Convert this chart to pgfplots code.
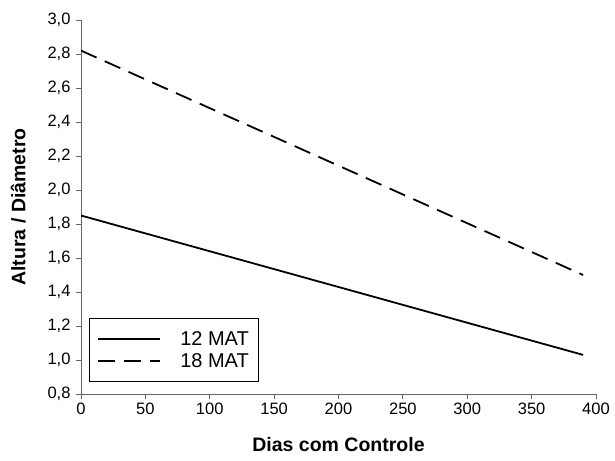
\documentclass[border=0pt]{standalone}
\usepackage{fontspec}
\setmainfont{Liberation Sans}
\usepackage{pgfplots}
\pgfplotsset{compat=1.18}

\begin{document}
\begin{tikzpicture}
\begin{axis}[
  scale only axis,
  width=515pt, height=374pt,
  xmin=0, xmax=400, ymin=0.8, ymax=3.0,
  xtick={0,50,...,400},
  ytick={0.8,1.0,...,3.0},
  axis lines*=left,
  axis line style={gray!80!black, line width=1pt, -},
  tick style={gray!80!black, line width=1pt},
  tick align=outside,
  major tick length=5pt,
  font=\fontsize{16.5}{19}\selectfont,
  xticklabel style={font=\fontsize{16.5}{19}\selectfont},
  yticklabel style={font=\fontsize{16.5}{19}\selectfont, xshift=-2pt},
  /pgf/number format/assume math mode=true,
  /pgf/number format/use comma,
  /pgf/number format/fixed,
  y tick label style={/pgf/number format/precision=1, /pgf/number format/fixed zerofill},
  xlabel={Dias com Controle},
  ylabel={Altura / Diâmetro},
  label style={font=\fontsize{19.5}{23}\selectfont\bfseries},
  xlabel style={at={(axis description cs:0.5,-0.134)}, anchor=center},
  ylabel style={at={(axis description cs:-0.122,0.5)}, anchor=center},
  legend style={at={(axis cs:6.2,0.8706)}, anchor=south west, draw=black, line width=1pt,
    font=\fontsize{20}{23}\selectfont, inner xsep=8pt, inner ysep=11pt, row sep=2pt,
    /tikz/every odd column/.append style={column sep=17pt}},
  legend cell align=left,
  legend image code/.code={\draw[#1, line width=1.8pt] (0pt,0pt) -- (62pt,0pt);},
]
\addplot[black, line width=1.8pt] coordinates {(0,1.85) (390,1.03)};
\addlegendentry{12 MAT}
\addplot[black, line width=1.8pt, dash pattern=on 17pt off 9pt] coordinates {(0,2.82) (390,1.50)};
\addlegendentry{18 MAT}
\coordinate (bl) at (rel axis cs:-0.1573,-0.1791);
\coordinate (tr) at (rel axis cs:1.0369,1.0535);
\end{axis}
\path (bl) rectangle (tr);
\end{tikzpicture}
\end{document}
